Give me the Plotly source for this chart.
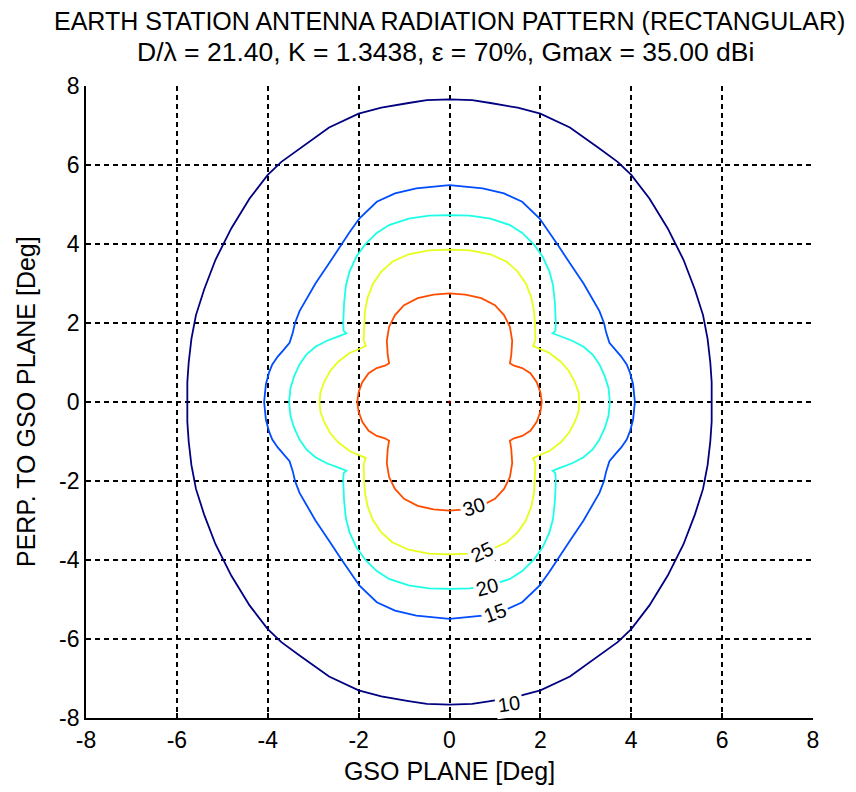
import plotly.graph_objects as go

# ---- data ----
levels = [10, 15, 20, 25, 30]
level_colors = ["#000080", "#004dff", "#1affe6", "#e6ff1a", "#ff4d00"]
peak_level = 35
peak_color = "#800000"

# first-quadrant contour points (x >= 0, y >= 0), from top (x=0) to right (y=0)
c10_x = [0.00, 0.50, 0.90, 1.50, 2.00, 2.65, 3.30, 3.70, 4.00, 4.40, 4.80, 5.15, 5.40, 5.58, 5.68, 5.74, 5.77, 5.77]
c10_y = [7.66, 7.64, 7.57, 7.45, 7.30, 6.95, 6.42, 6.08, 5.75, 5.15, 4.40, 3.60, 2.85, 2.20, 1.60, 1.00, 0.50, 0.00]

c15_x = [0.00, 0.73, 1.20, 1.60, 1.98, 2.20, 2.40, 2.65, 2.95, 3.15, 3.30, 3.40, 3.45, 3.52, 3.65, 3.78, 3.90, 3.97, 4.04, 4.08]
c15_y = [5.49, 5.41, 5.28, 5.07, 4.65, 4.30, 3.95, 3.51, 3.00, 2.60, 2.30, 2.00, 1.75, 1.50, 1.32, 1.15, 0.95, 0.75, 0.45, 0.00]

c20_x = [0.00, 0.45, 0.90, 1.33, 1.60, 1.85, 2.05, 2.20, 2.28, 2.32, 2.34, 2.33, 2.27, 2.40, 2.70, 2.95, 3.15, 3.30, 3.42, 3.50, 3.53]
c20_y = [4.73, 4.72, 4.64, 4.48, 4.28, 4.00, 3.68, 3.30, 2.95, 2.50, 1.99, 1.80, 1.74, 1.68, 1.55, 1.40, 1.20, 0.95, 0.65, 0.35, 0.00]

c25_x = [0.00, 0.45, 0.90, 1.26, 1.50, 1.68, 1.80, 1.86, 1.88, 1.89, 1.84, 1.95, 2.20, 2.45, 2.63, 2.76, 2.84, 2.86]
c25_y = [3.86, 3.84, 3.74, 3.55, 3.30, 3.00, 2.65, 2.30, 1.99, 1.57, 1.42, 1.36, 1.24, 1.02, 0.78, 0.50, 0.25, 0.00]

c30_x = [0.00, 0.35, 0.70, 1.00, 1.20, 1.33, 1.38, 1.36, 1.33, 1.42, 1.60, 1.78, 1.92, 2.00, 2.03]
c30_y = [2.75, 2.72, 2.63, 2.45, 2.20, 1.90, 1.55, 1.20, 0.98, 0.92, 0.86, 0.73, 0.50, 0.25, 0.00]

quadrants = [(c10_x, c10_y), (c15_x, c15_y), (c20_x, c20_y), (c25_x, c25_y), (c30_x, c30_y)]

tick_vals = [-8, -6, -4, -2, 0, 2, 4, 6, 8]
tick_text = ["-8", "-6", "-4", "-2", "0", "2", "4", "6", "8"]

title1 = "EARTH STATION ANTENNA RADIATION PATTERN (RECTANGULAR)"
title2 = "D/λ = 21.40, K = 1.3438, ε = 70%, Gmax = 35.00 dBi"
x_title = "GSO PLANE [Deg]"
y_title = "PERP. TO GSO PLANE [Deg]"

# contour label placement (data coords) and rotation
label_pos = [(1.30, -7.64, -8), (1.00, -5.35, -20), (0.83, -4.68, -15), (0.71, -3.80, -25), (0.53, -2.67, -18)]

FONT = "Liberation Sans, Arial, Helvetica, sans-serif"


def closed_curve(qx, qy):
    # mirror the first-quadrant points into the other three quadrants
    xs = list(qx) + [x for x in reversed(qx)][1:]
    ys = list(qy) + [-y for y in reversed(qy)][1:]
    xs += [-x for x in qx][1:]
    ys += [-y for y in qy][1:]
    xs += [-x for x in reversed(qx)][1:]
    ys += [y for y in reversed(qy)][1:]
    return xs, ys


fig = go.Figure()
for lev, col, (qx, qy) in zip(levels, level_colors, quadrants):
    xs, ys = closed_curve(qx, qy)
    fig.add_trace(go.Scatter(x=xs, y=ys, mode="lines", name=str(lev),
                             line=dict(color=col, width=1.8), hoverinfo="skip"))

fig.add_trace(go.Scatter(x=[0], y=[0], mode="markers", name=str(peak_level),
                         marker=dict(color=peak_color, size=3), hoverinfo="skip"))

axis_common = dict(range=[-8, 8], tickvals=tick_vals, ticktext=tick_text,
                   showgrid=True, gridcolor="black", gridwidth=1.5, griddash="5px,4px",
                   zeroline=False, showline=True, linecolor="black", linewidth=1.8,
                   ticks="inside", ticklen=5, tickwidth=1.5, tickcolor="black",
                   mirror=False, tickfont=dict(family=FONT, size=23, color="black"),
                   fixedrange=True)

fig.update_layout(
    width=856, height=792,
    margin=dict(l=86, r=43, t=86, b=74),
    paper_bgcolor="white", plot_bgcolor="white",
    showlegend=False,
    font=dict(family=FONT, color="black"),
    xaxis=dict(**axis_common, title=dict(text=x_title, font=dict(family=FONT, size=25), standoff=11)),
    yaxis=dict(**axis_common),
)

# y-axis title as an annotation for precise placement
fig.add_annotation(x=0, y=0.5, xref="paper", yref="paper", xshift=-60, xanchor="center", yanchor="middle",
                   text=y_title, textangle=-90, showarrow=False,
                   font=dict(family=FONT, size=25, color="black"))

# titles as paper annotations
fig.add_annotation(x=0.5, y=1.0, xref="paper", yref="paper", yshift=65, yanchor="middle",
                   text=title1, showarrow=False, font=dict(family=FONT, size=25, color="black"))
fig.add_annotation(x=0.495, y=1.0, xref="paper", yref="paper", yshift=34, yanchor="middle",
                   text=title2, showarrow=False, font=dict(family=FONT, size=26.5, color="black"))
for lev, (lx, ly, ang) in zip(levels, label_pos):
    fig.add_annotation(x=lx, y=ly, xref="x", yref="y", text=str(lev), showarrow=False,
                       textangle=ang, bgcolor="white", borderpad=2,
                       font=dict(family=FONT, size=20, color="black"))

fig.write_html("out.html")
